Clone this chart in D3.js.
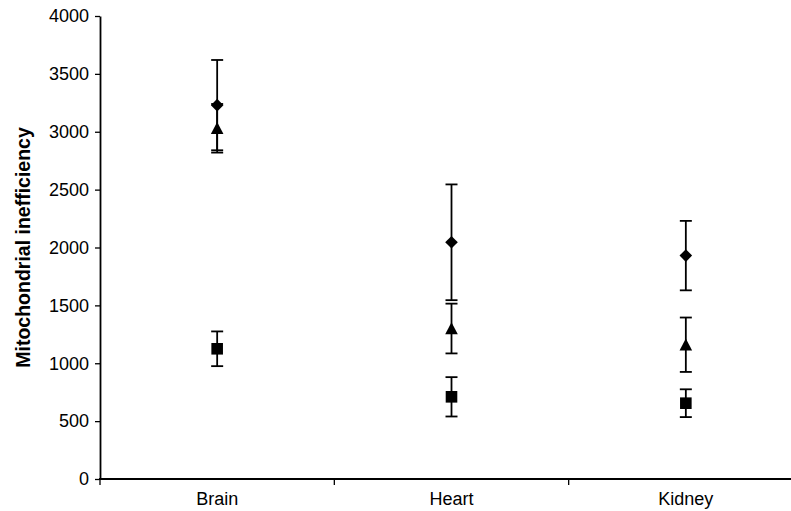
<!DOCTYPE html>
<html>
<head>
<meta charset="utf-8">
<script src="https://cdn.jsdelivr.net/npm/d3@7"></script>
<style>
  body { margin: 0; background: #fff; }
  text { font-family: "Liberation Sans", Arial, sans-serif; fill: #000; }
</style>
</head>
<body>
<script>
// categorie e valori
const categorie = ["Brain", "Heart", "Kidney"];
const tickY = [0, 500, 1000, 1500, 2000, 2500, 3000, 3500, 4000];

// serie rombo
const valoriRombo = [3230, 2045, 1930];
const erroriRombo = [390, 500, 300];
// serie triangolo
const valoriTriangolo = [3030, 1300, 1160];
const erroriTriangolo = [210, 215, 235];
// serie quadrato
const valoriQuadrato = [1125, 710, 655];
const erroriQuadrato = [150, 170, 120];

const grafico = { sinistra: 100, destra: 803, alto: 16, basso: 479 };

let svg = d3.select("body")
    .append("svg")
    .attr("width", 791)
    .attr("height", 511);

let scalaX = d3.scaleBand()
    .domain(categorie)
    .range([grafico.sinistra, grafico.destra])
    .padding(0);

let scalaY = d3.scaleLinear()
    .domain([0, 4000])
    .range([grafico.basso, grafico.alto]);

// asse y
let asseY = d3.axisLeft(scalaY)
    .tickValues(tickY)
    .tickFormat(d3.format("d"))
    .tickSize(5)
    .tickPadding(6)
    .tickSizeOuter(0);

let gY = svg.append("g")
    .attr("transform", `translate(${grafico.sinistra},0)`)
    .call(asseY);
gY.select(".domain").attr("stroke", "#000").attr("stroke-width", 1.8);
gY.selectAll(".tick line").attr("stroke", "#000").attr("stroke-width", 1.3);
gY.selectAll(".tick text")
    .attr("font-size", 18)
    .attr("font-family", "Liberation Sans, Arial, sans-serif");

// asse x: tacche ai bordi delle categorie
let bordi = categorie.map(c => scalaX(c)).concat([scalaX(categorie[2]) + scalaX.bandwidth()]);
svg.append("line")
    .attr("x1", grafico.sinistra - 1)
    .attr("x2", grafico.destra)
    .attr("y1", grafico.basso)
    .attr("y2", grafico.basso)
    .attr("stroke", "#000")
    .attr("stroke-width", 1.8);
svg.selectAll(".tacca")
    .data(bordi)
    .enter()
    .append("line")
    .attr("x1", d => d)
    .attr("x2", d => d)
    .attr("y1", grafico.basso)
    .attr("y2", grafico.basso + 6)
    .attr("stroke", "#000")
    .attr("stroke-width", 1.3);
svg.selectAll(".etichetta")
    .data(categorie)
    .enter()
    .append("text")
    .attr("x", d => scalaX(d) + scalaX.bandwidth() / 2)
    .attr("y", 505)
    .attr("text-anchor", "middle")
    .attr("font-size", 18)
    .text(d => d);

// titolo asse y
svg.append("text")
    .attr("transform", `translate(30,${(grafico.alto + grafico.basso) / 2}) rotate(-90)`)
    .attr("text-anchor", "middle")
    .attr("font-size", 19.5)
    .attr("font-weight", "bold")
    .text("Mitochondrial inefficiency");

// forme dei marcatori
let forma = function (tipo, r) {
    if (tipo == "rombo") return `M0,${-r}L${r},0L0,${r}L${-r},0Z`;
    if (tipo == "triangolo") return `M0,${-r}L${r},${r * 0.9}L${-r},${r * 0.9}Z`;
    return `M${-r},${-r}H${r}V${r}H${-r}Z`;
};

let serie = [
    { tipo: "quadrato", valori: valoriQuadrato, errori: erroriQuadrato, r: 5.8 },
    { tipo: "triangolo", valori: valoriTriangolo, errori: erroriTriangolo, r: 6.3 },
    { tipo: "rombo", valori: valoriRombo, errori: erroriRombo, r: 6.3 }
];

serie.forEach(function (s) {
    let punti = categorie.map((c, i) => ({ c: c, v: s.valori[i], e: s.errori[i] }));
    let g = svg.append("g").attr("class", "serie-" + s.tipo);
    let cx = d => scalaX(d.c) + scalaX.bandwidth() / 2;

    // barre di errore
    g.selectAll(".verticale")
        .data(punti)
        .enter()
        .append("line")
        .attr("x1", cx).attr("x2", cx)
        .attr("y1", d => scalaY(d.v + d.e))
        .attr("y2", d => scalaY(d.v - d.e))
        .attr("stroke", "#000")
        .attr("stroke-width", 1.8);
    [1, -1].forEach(function (segno) {
        g.selectAll(".cap" + segno)
            .data(punti)
            .enter()
            .append("line")
            .attr("x1", d => cx(d) - 6)
            .attr("x2", d => cx(d) + 6)
            .attr("y1", d => scalaY(d.v + segno * d.e))
            .attr("y2", d => scalaY(d.v + segno * d.e))
            .attr("stroke", "#000")
            .attr("stroke-width", 1.8);
    });

    // marcatori
    g.selectAll(".marcatore")
        .data(punti)
        .enter()
        .append("path")
        .attr("transform", d => `translate(${cx(d)},${scalaY(d.v)})`)
        .attr("d", forma(s.tipo, s.r))
        .attr("fill", "#000");
});
</script>
</body>
</html>
